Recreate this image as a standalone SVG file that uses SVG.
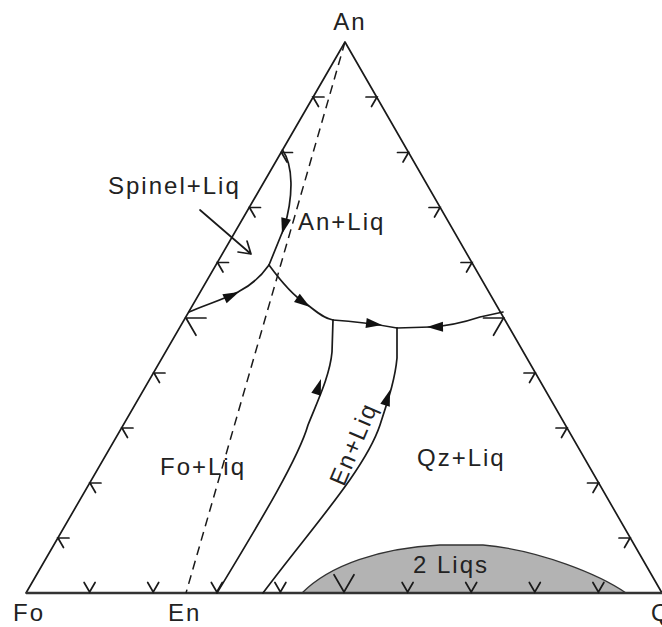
<svg xmlns="http://www.w3.org/2000/svg" xmlns:xlink="http://www.w3.org/1999/xlink" width="662" height="627" viewBox="0 0 662 627">
<style>
.ln{fill:none;stroke:#1a1a1a;stroke-width:1.7;stroke-linecap:round;stroke-linejoin:round}
.tk{fill:none;stroke:#1a1a1a;stroke-width:1.7;stroke-linecap:round;stroke-linejoin:miter}
.lbl{font-family:"Liberation Sans",Arial,sans-serif;font-size:24px;fill:#222;letter-spacing:2px}
.ah{fill:#111;stroke:none}
</style>
<defs>
<path id="tL" class="tk" d="M11,0 L0,0 L5.5,9.5"/>
<path id="tLB" class="tk" d="M20,0 L0,0 L10,17.3"/>
<path id="tR" class="tk" d="M-11,0 L0,0 L-5.5,9.5"/>
<path id="tRB" class="tk" d="M-20,0 L0,0 L-10,17.3"/>
<path id="tB" class="tk" d="M-5.5,-9.5 L0,0 L5.5,-9.5"/>
<path id="tBB" class="tk" d="M-10,-17.3 L0,0 L10,-17.3"/>
<polygon id="ah" class="ah" points="0,0 -16,-5 -16,5"/>
</defs>
<rect width="662" height="627" fill="#fff"/>

<g id="two-liquids">
<path d="M302,593 C330,565 380,548 440,545 L483,545 C540,550 600,575 626,593 Z" fill="#b3b3b3" stroke="#333" stroke-width="1.3"/>
</g>

<g id="triangle">
<path class="ln" d="M26,593 L345,42 L662,593"/>
<path d="M26,593 L662,593" fill="none" stroke="#333" stroke-width="2.4"/>
<line x1="345" y1="42" x2="186" y2="593" stroke="#1a1a1a" stroke-width="1.5" stroke-dasharray="9 6"/>
</g>

<g id="edge-ticks">
<use xlink:href="#tL" x="58" y="538"/>
<use xlink:href="#tL" x="90" y="483"/>
<use xlink:href="#tL" x="122" y="428"/>
<use xlink:href="#tL" x="154" y="373"/>
<use xlink:href="#tLB" x="186" y="318"/>
<use xlink:href="#tL" x="217.5" y="262.5"/>
<use xlink:href="#tL" x="249.5" y="207.5"/>
<use xlink:href="#tL" x="281.5" y="152.5"/>
<use xlink:href="#tL" x="313" y="97"/>
<use xlink:href="#tR" x="630" y="538"/>
<use xlink:href="#tR" x="598.5" y="483"/>
<use xlink:href="#tR" x="567" y="428"/>
<use xlink:href="#tR" x="535" y="373"/>
<use xlink:href="#tRB" x="503.5" y="318"/>
<use xlink:href="#tR" x="472" y="262.5"/>
<use xlink:href="#tR" x="440" y="207.5"/>
<use xlink:href="#tR" x="408.5" y="152.5"/>
<use xlink:href="#tR" x="377" y="97"/>
<use xlink:href="#tB" x="89.6" y="592"/>
<use xlink:href="#tB" x="153.2" y="592"/>
<use xlink:href="#tB" x="216.8" y="592"/>
<use xlink:href="#tB" x="280.4" y="592"/>
<use xlink:href="#tBB" x="344" y="592"/>
<use xlink:href="#tB" x="407.6" y="592"/>
<use xlink:href="#tB" x="471.2" y="592"/>
<use xlink:href="#tB" x="534.8" y="592"/>
<use xlink:href="#tB" x="598.4" y="592"/>
</g>

<g id="boundaries">
<path class="ln" d="M282.5,150 C293,165 294,195 284,228 L269,265"/>
<path class="ln" d="M189,312 C205,305 222,300 238,292 C252,285 262,275 269,265"/>
<path class="ln" d="M269,265 C280,280 292,295 305,303 C315,310 322,318 333,320"/>
<path class="ln" d="M333,320 C350,321 370,323 397,328"/>
<path class="ln" d="M397,328 L430,327 C450,326 465,322 480,317 L503,312"/>
<path class="ln" d="M333,320 L332,352 C330,375 318,400 308,425 C298,460 255,530 217,593"/>
<path class="ln" d="M397,328 L397,358 C395,380 388,400 380,425 C365,470 310,530 263,593"/>
<path class="ln" d="M200,210 L251,254 M238,252 L251,254 L247,241"/>
</g>

<g id="arrowheads">
<use xlink:href="#ah" transform="translate(282,234) rotate(105)"/>
<use xlink:href="#ah" transform="translate(239,292) rotate(-25)"/>
<use xlink:href="#ah" transform="translate(310,307) rotate(35)"/>
<use xlink:href="#ah" transform="translate(382,325) rotate(7)"/>
<use xlink:href="#ah" transform="translate(427,327) rotate(179)"/>
<use xlink:href="#ah" transform="translate(321,379) rotate(-72)"/>
<use xlink:href="#ah" transform="translate(390,390) rotate(-72)"/>
</g>

<g id="labels">
<text class="lbl" x="350" y="30" text-anchor="middle">An</text>
<text class="lbl" x="13" y="621">Fo</text>
<text class="lbl" x="168" y="621">En</text>
<text class="lbl" x="651" y="621">Q</text>
<text class="lbl" x="108" y="194">Spinel+Liq</text>
<text class="lbl" x="298" y="230">An+Liq</text>
<text class="lbl" x="160" y="475">Fo+Liq</text>
<text class="lbl" x="417" y="466">Qz+Liq</text>
<text class="lbl" text-anchor="middle" transform="translate(361,447) rotate(-67)">En+Liq</text>
<text class="lbl" x="413" y="573">2 Liqs</text>
</g>
</svg>
